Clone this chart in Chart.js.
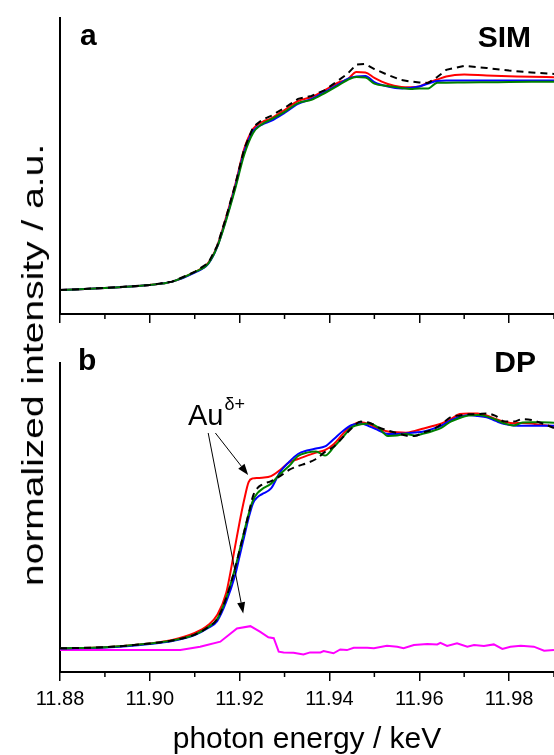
<!DOCTYPE html>
<html lang="en">
<head>
  <meta charset="UTF-8">
  <title>Au L3 XANES - SIM / DP</title>
  <script src="https://cdn.jsdelivr.net/npm/chart.js"></script>
  <style>
    body { margin: 0; background: #fff; }
    #wrap { position: relative; width: 554px; height: 755px; overflow: hidden; font-family: 'Liberation Sans', Arial, sans-serif; }
    canvas { position: absolute; left: 0; }
    #yTitle { position: absolute; left: 33px; top: 365px; font-size: 30px; line-height: 1; white-space: nowrap; color: #000;
              transform: translate(-50%, -50%) rotate(-90deg) scaleX(1.3); }
  </style>
</head>
<body>
  <div id="wrap">
    <canvas id="chartA" width="554" height="330" style="top:0"></canvas>
    <canvas id="chartB" width="554" height="425" style="top:330px"></canvas>
    <div id="yTitle">normalized intensity / a.u.</div>
  </div>

  <script>
    // x axis ticks (keV)
    const xMajorTicks = [11.88, 11.90, 11.92, 11.94, 11.96, 11.98];
    const xMinorTicks = [11.89, 11.91, 11.93, 11.95, 11.97, 11.99];

    // panel a (SIM)
    const energyA = [11.880, 11.890, 11.900, 11.905, 11.910, 11.913, 11.915, 11.917, 11.919, 11.921, 11.923, 11.925,
      11.927, 11.930, 11.933, 11.936, 11.939, 11.942, 11.944, 11.946, 11.948, 11.950, 11.953, 11.956, 11.958, 11.960,
      11.962, 11.964, 11.966, 11.970, 11.975, 11.980, 11.985, 11.990];
    const redA = [0.000, 0.010, 0.024, 0.040, 0.086, 0.129, 0.210, 0.348, 0.500, 0.671, 0.767, 0.800, 0.817, 0.857,
      0.900, 0.919, 0.952, 0.988, 1.002, 1.038, 1.036, 1.010, 0.981, 0.967, 0.965, 0.969, 0.988, 1.002, 1.017, 1.026,
      1.021, 1.018, 1.015, 1.013];
    const blueA = [0.000, 0.010, 0.024, 0.040, 0.083, 0.124, 0.205, 0.338, 0.490, 0.657, 0.757, 0.788, 0.805, 0.843,
      0.886, 0.910, 0.943, 0.979, 1.005, 1.017, 1.019, 0.990, 0.969, 0.960, 0.962, 0.969, 0.983, 0.995, 0.997, 0.997,
      0.997, 0.997, 0.997, 0.997];
    const greenA = [0.000, 0.010, 0.024, 0.040, 0.086, 0.126, 0.205, 0.333, 0.481, 0.643, 0.748, 0.790, 0.812, 0.848,
      0.890, 0.905, 0.938, 0.974, 1.000, 1.014, 1.012, 0.983, 0.971, 0.962, 0.957, 0.960, 0.960, 0.987, 0.987, 0.988,
      0.989, 0.990, 0.991, 0.992];
    const dashA = [0.000, 0.010, 0.024, 0.040, 0.086, 0.129, 0.210, 0.348, 0.500, 0.671, 0.776, 0.810, 0.829, 0.867,
      0.910, 0.924, 0.952, 0.998, 1.029, 1.074, 1.076, 1.052, 1.024, 1.000, 0.993, 0.988, 0.986, 1.014, 1.048, 1.067,
      1.057, 1.045, 1.036, 1.029];

    // panel b (DP)
    const energyB = [11.880, 11.890, 11.900, 11.905, 11.910, 11.913, 11.915, 11.917, 11.919, 11.920, 11.921, 11.922,
      11.923, 11.924, 11.925, 11.927, 11.929, 11.931, 11.933, 11.935, 11.937, 11.939, 11.941, 11.943, 11.945, 11.947,
      11.949, 11.951, 11.953, 11.955, 11.957, 11.959, 11.961, 11.963, 11.965, 11.967, 11.969, 11.971, 11.973, 11.975,
      11.977, 11.979, 11.981, 11.983, 11.985, 11.987, 11.990];
    const redB = [-0.001, 0.004, 0.020, 0.035, 0.066, 0.101, 0.145, 0.241, 0.447, 0.553, 0.649, 0.728, 0.744, 0.746,
      0.747, 0.754, 0.781, 0.814, 0.829, 0.844, 0.857, 0.868, 0.895, 0.939, 0.976, 0.990, 0.980, 0.961, 0.950, 0.946,
      0.944, 0.952, 0.963, 0.974, 0.985, 1.004, 1.026, 1.029, 1.029, 1.020, 1.005, 0.993, 0.986, 0.987, 0.985, 0.978,
      0.974];
    const blueB = [-0.002, 0.002, 0.018, 0.031, 0.057, 0.088, 0.118, 0.202, 0.320, 0.404, 0.487, 0.570, 0.636, 0.662,
      0.675, 0.700, 0.772, 0.816, 0.851, 0.866, 0.875, 0.884, 0.917, 0.952, 0.978, 0.985, 0.971, 0.954, 0.939, 0.939,
      0.941, 0.945, 0.950, 0.961, 0.976, 0.998, 1.013, 1.022, 1.018, 1.012, 0.996, 0.982, 0.976, 0.975, 0.975, 0.975,
      0.975];
    const greenB = [-0.001, 0.004, 0.020, 0.033, 0.059, 0.092, 0.127, 0.219, 0.351, 0.430, 0.509, 0.588, 0.649, 0.680,
      0.697, 0.721, 0.763, 0.798, 0.842, 0.857, 0.862, 0.844, 0.882, 0.925, 0.969, 0.981, 0.985, 0.965, 0.930, 0.932,
      0.939, 0.932, 0.941, 0.952, 0.967, 0.993, 1.009, 1.020, 1.022, 1.016, 1.002, 0.985, 0.976, 0.989, 0.990, 0.990,
      0.988];
    const dashB = [-0.001, 0.004, 0.020, 0.033, 0.059, 0.092, 0.127, 0.219, 0.351, 0.430, 0.509, 0.588, 0.667, 0.702,
      0.717, 0.732, 0.754, 0.781, 0.798, 0.811, 0.829, 0.860, 0.884, 0.925, 0.965, 0.993, 0.987, 0.967, 0.954, 0.943,
      0.932, 0.930, 0.946, 0.959, 0.982, 1.013, 1.020, 1.025, 1.026, 1.029, 1.018, 0.993, 0.993, 1.004, 1.000, 0.988,
      0.965];

    // difference spectrum (magenta)
    const energyDiff = [11.8800, 11.9001, 11.9068, 11.9112, 11.9157, 11.9194, 11.9224, 11.9246, 11.9264, 11.9276,
      11.9287, 11.9298, 11.9320, 11.9342, 11.9357, 11.9380, 11.9387, 11.9409, 11.9424, 11.9439, 11.9454, 11.9484,
      11.9499, 11.9528, 11.9551, 11.9565, 11.9588, 11.9618, 11.9640, 11.9647, 11.9662, 11.9684, 11.9707, 11.9722,
      11.9744, 11.9766, 11.9785, 11.9803, 11.9826, 11.9855, 11.9878, 11.9900];
    const diffB = [-0.009, -0.009, -0.009, 0.006, 0.028, 0.086, 0.096, 0.071, 0.047, 0.043, -0.016, -0.019, -0.021,
      -0.028, -0.019, -0.019, -0.013, -0.023, -0.006, -0.009, 0.001, 0.001, -0.001, 0.010, 0.006, -0.001, 0.013, 0.018,
      0.016, 0.023, 0.009, 0.021, 0.006, 0.013, 0.009, 0.016, -0.004, 0.006, 0.010, 0.006, -0.012, -0.009];

    // Au(delta+) annotation: [energy, intensity]
    const auLabelAt = [11.9085, 0.978];
    const auArrows = [
      { from: [11.9146, 0.943], to: [11.9219, 0.759] },
      { from: [11.9130, 0.943], to: [11.9208, 0.152] }
    ];

    const FONT = "'Liberation Sans', Arial, sans-serif";
    const pts = (xs, ys) => xs.map((e, i) => ({ x: e, y: ys[i] }));

    function line(data, color, dashed, smooth) {
      return {
        data: data,
        borderColor: color,
        borderWidth: 2,
        borderDash: dashed ? [7, 5] : [],
        pointRadius: 0,
        cubicInterpolationMode: smooth === false ? 'default' : 'monotone',
        tension: smooth === false ? 0 : 0.4,
        fill: false
      };
    }

    const minorTicks = {
      id: 'minorTicks',
      afterDraw(chart) {
        const sx = chart.scales.x, ctx = chart.ctx, y0 = chart.chartArea.bottom;
        ctx.save();
        ctx.strokeStyle = '#000';
        ctx.lineWidth = 1.5;
        xMinorTicks.forEach(v => {
          const px = sx.getPixelForValue(v);
          ctx.beginPath();
          ctx.moveTo(px, y0);
          ctx.lineTo(px, y0 + 5);
          ctx.stroke();
        });
        ctx.restore();
      }
    };

    const panelLabels = {
      id: 'panelLabels',
      afterDraw(chart, args, opts) {
        const ctx = chart.ctx;
        ctx.save();
        ctx.fillStyle = '#000';
        ctx.font = 'bold 30px ' + FONT;
        ctx.textBaseline = 'alphabetic';
        ctx.textAlign = 'left';
        ctx.fillText(opts.left, opts.leftX, opts.leftY);
        ctx.textAlign = 'right';
        ctx.fillText(opts.right, opts.rightX, opts.rightY);
        ctx.restore();
      }
    };

    const auNote = {
      id: 'auNote',
      afterDatasetsDraw(chart) {
        const { ctx, scales: { x, y } } = chart;
        ctx.save();
        ctx.strokeStyle = '#000';
        ctx.fillStyle = '#000';
        ctx.lineWidth = 1;
        auArrows.forEach(a => {
          const x0 = x.getPixelForValue(a.from[0]), y0 = y.getPixelForValue(a.from[1]);
          const x1 = x.getPixelForValue(a.to[0]), y1 = y.getPixelForValue(a.to[1]);
          const ang = Math.atan2(y1 - y0, x1 - x0), c = Math.cos(ang), s = Math.sin(ang);
          const len = 11, w = 4;
          ctx.beginPath();
          ctx.moveTo(x0, y0);
          ctx.lineTo(x1 - len * c, y1 - len * s);
          ctx.stroke();
          ctx.beginPath();
          ctx.moveTo(x1, y1);
          ctx.lineTo(x1 - len * c + w * s, y1 - len * s - w * c);
          ctx.lineTo(x1 - len * c - w * s, y1 - len * s + w * c);
          ctx.closePath();
          ctx.fill();
        });
        const lx = x.getPixelForValue(auLabelAt[0]), ly = y.getPixelForValue(auLabelAt[1]);
        ctx.font = '29px ' + FONT;
        ctx.textAlign = 'left';
        ctx.textBaseline = 'alphabetic';
        ctx.fillText('Au', lx, ly);
        const w = ctx.measureText('Au').width;
        ctx.font = '18px ' + FONT;
        ctx.fillText('\u03b4+', lx + w + 1, ly - 15);
        ctx.restore();
      }
    };

    function xAxis(showLabels, height) {
      return {
        type: 'linear',
        min: 11.88,
        max: 11.99,
        afterBuildTicks: s => { s.ticks = xMajorTicks.map(v => ({ value: v })); },
        afterFit: s => { s.height = height; },
        ticks: {
          display: showLabels,
          color: '#000',
          font: { size: 20, family: FONT },
          padding: 6,
          maxRotation: 0,
          autoSkip: false,
          callback: v => v.toFixed(2)
        },
        grid: { drawOnChartArea: false, drawTicks: true, tickLength: 9, color: '#000', lineWidth: 1.5 },
        border: { display: true, color: '#000', width: 2 },
        title: {
          display: showLabels,
          text: 'photon energy / keV',
          color: '#000',
          font: { size: 30, family: FONT, lineHeight: 1 },
          padding: { top: 0, bottom: 0 }
        }
      };
    }

    function yAxis(min, max) {
      return {
        type: 'linear',
        min: min,
        max: max,
        afterFit: s => { s.width = 60; },
        ticks: { display: false },
        grid: { drawOnChartArea: false, drawTicks: false },
        border: { display: true, color: '#000', width: 2 }
      };
    }

    const common = {
      responsive: false,
      animation: false,
      events: [],
      plugins: { legend: { display: false }, tooltip: { enabled: false } }
    };

    new Chart(document.getElementById('chartA'), {
      type: 'line',
      data: {
        datasets: [
          line(pts(energyA, dashA), '#000000', true, false),
          line(pts(energyA, greenA), '#008000'),
          line(pts(energyA, blueA), '#0000ff'),
          line(pts(energyA, redA), '#ff0000')
        ]
      },
      options: {
        ...common,
        layout: { padding: { top: 18, right: 0, bottom: 0, left: 0 } },
        scales: { x: xAxis(false, 16), y: yAxis(-0.114, 1.295) },
        plugins: {
          ...common.plugins,
          panelLabels: { left: 'a', leftX: 80, leftY: 45, right: 'SIM', rightX: 531, rightY: 47 }
        }
      },
      plugins: [minorTicks, panelLabels]
    });

    new Chart(document.getElementById('chartB'), {
      type: 'line',
      data: {
        datasets: [
          line(pts(energyB, dashB), '#000000', true),
          line(pts(energyB, greenB), '#008000'),
          line(pts(energyB, blueB), '#0000ff'),
          line(pts(energyB, redB), '#ff0000'),
          line(pts(energyDiff, diffB), '#ff00ff', false, false)
        ]
      },
      options: {
        ...common,
        layout: { padding: { top: 33, right: 0, bottom: 0, left: 0 } },
        scales: { x: xAxis(true, 83), y: yAxis(-0.105, 1.25) },
        plugins: {
          ...common.plugins,
          panelLabels: { left: 'b', leftX: 78, leftY: 40, right: 'DP', rightX: 536, rightY: 42 }
        }
      },
      plugins: [minorTicks, panelLabels, auNote]
    });
  </script>
</body>
</html>
